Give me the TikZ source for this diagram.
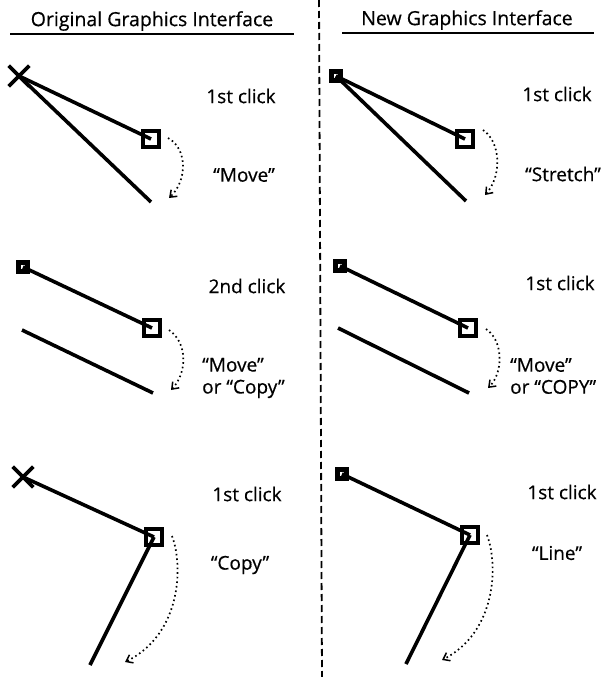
\documentclass[tikz,border=0pt]{standalone}
\usepackage{fontspec}
\setmainfont[FakeBold=0.5]{Open Sans}
\usetikzlibrary{arrows.meta,shapes.misc}
\tikzset{
  bigsq/.style={draw, line width=4pt, minimum size=15.5pt, inner sep=0pt},
  smallsq/.style={draw, line width=4.2pt, minimum size=9pt, inner sep=0pt},
  xmark/.style={cross out, draw, line width=3.6pt, minimum size=17pt, inner sep=0pt},
  seg/.style={line width=3.6pt},
  drag/.style={line width=1.7pt, dash pattern=on 1.6pt off 3pt, -{Straight Barb[length=6pt,width=9pt,line width=1.5pt]}},
  lbl/.style={font=\fontsize{19}{22}\selectfont, align=left, inner sep=0pt},
  ttl/.style={font=\fontsize{19.5}{22}\selectfont, inner sep=0pt},
  rule/.style={line width=1.5pt},
  divider/.style={line width=1.8pt, dash pattern=on 7pt off 4pt},
}
\begin{document}
\begin{tikzpicture}[x=1pt, y=-1pt]
\useasboundingbox (0,0) rectangle (608,677);

% titles
\node[ttl] (t1) at (152,21) {Original Graphics Interface};
\node[ttl] (t2) at (467,20) {New Graphics Interface};
\coordinate (u1a) at (10,34); \coordinate (u1b) at (294,34);
\coordinate (u2a) at (342,33); \coordinate (u2b) at (594,33);
\draw[rule] (u1a) -- (u1b);
\draw[rule] (u2a) -- (u2b);

% divider
\coordinate (da) at (319,0); \coordinate (db) at (322,677);
\draw[divider] (da) -- (db);

% ---------- panel 1 ----------
\node[xmark] (x1) at (19,76) {};
\node[bigsq] (b1) at (151,139) {};
\coordinate (e1) at (151,202);
\draw[seg] (x1.center) -- (b1.center);
\draw[seg] (x1.center) -- (e1);
\node[lbl] (c1) at (241,96) {1st click};
\node[lbl] (m1) at (244,175) {“Move”};
\coordinate (a1s) at (168,138); \coordinate (a1e) at (169,198);
\draw[drag] (a1s) .. controls (187,148) and (188,180) .. (a1e);

% ---------- panel 2 ----------
\node[smallsq] (s2) at (336,76) {};
\node[bigsq] (b2) at (465,139) {};
\coordinate (e2) at (466,201);
\draw[seg] (s2.center) -- (b2.center);
\draw[seg] (s2.center) -- (e2);
\node[lbl] (c2) at (557,94) {1st click};
\node[lbl] (m2) at (563,174) {“Stretch”};
\coordinate (a2s) at (483,130); \coordinate (a2e) at (485,195);
\draw[drag] (a2s) .. controls (501,142) and (502,176) .. (a2e);

% ---------- panel 3 ----------
\node[smallsq] (s3) at (23,267) {};
\node[bigsq] (b3) at (152,328) {};
\coordinate (l3a) at (22,330); \coordinate (l3b) at (153,393);
\draw[seg] (s3.center) -- (b3.center);
\draw[seg] (l3a) -- (l3b);
\node[lbl] (c3) at (247,286) {2nd click};
\node[lbl, anchor=west] (m3) at (202,378) {“Move”\\or “Copy”};
\coordinate (a3s) at (169,330); \coordinate (a3e) at (171,390);
\draw[drag] (a3s) .. controls (187,342) and (188,372) .. (a3e);

% ---------- panel 4 ----------
\node[smallsq] (s4) at (340,266) {};
\node[bigsq] (b4) at (468,328) {};
\coordinate (l4a) at (338,328); \coordinate (l4b) at (469,393);
\draw[seg] (s4.center) -- (b4.center);
\draw[seg] (l4a) -- (l4b);
\node[lbl] (c4) at (560,283) {1st click};
\node[lbl, anchor=west] (m4) at (510,376) {“Move”\\or “COPY”};
\coordinate (a4s) at (486,329); \coordinate (a4e) at (488,388);
\draw[drag] (a4s) .. controls (503,340) and (504,372) .. (a4e);

% ---------- panel 5 ----------
\node[xmark] (x5) at (23,477) {};
\node[bigsq] (b5) at (154,537) {};
\coordinate (e5) at (90,665);
\draw[seg] (x5.center) -- (b5.center);
\draw[seg] (b5.center) -- (e5);
\node[lbl] (c5) at (247,494) {1st click};
\node[lbl] (m5) at (240,565) {“Copy”};
\coordinate (a5s) at (172,536); \coordinate (a5e) at (125,662);
\draw[drag] (a5s) .. controls (184,568) and (180,635) .. (a5e);

% ---------- panel 6 ----------
\node[smallsq] (s6) at (342,474) {};
\node[bigsq] (b6) at (470,535) {};
\coordinate (e6) at (406,664);
\draw[seg] (s6.center) -- (b6.center);
\draw[seg] (b6.center) -- (e6);
\node[lbl] (c6) at (562,492) {1st click};
\node[lbl] (m6) at (557,553) {“Line”};
\coordinate (a6s) at (487,535); \coordinate (a6e) at (442,660);
\draw[drag] (a6s) .. controls (499,567) and (495,633) .. (a6e);
\end{tikzpicture}
\end{document}
